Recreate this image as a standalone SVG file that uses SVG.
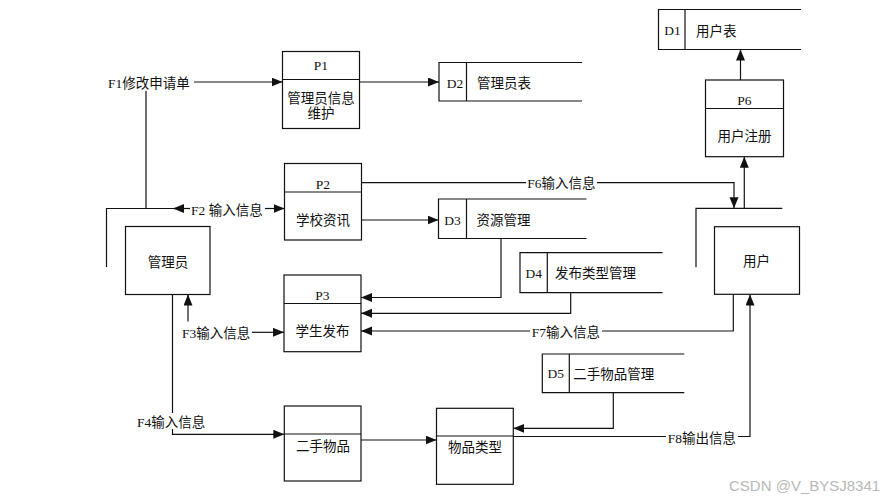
<svg xmlns="http://www.w3.org/2000/svg" width="893" height="501" viewBox="0 0 893 501">
<style>
.bx{fill:#fff;stroke:#111;stroke-width:1.2}
.ln{fill:none;stroke:#111;stroke-width:1.2}
.ar{fill:none;stroke:#111;stroke-width:1.2;marker-end:url(#ah)}
text{font-family:"Liberation Serif","Noto Sans CJK SC",serif;font-size:13.5px;fill:#111}
.c{text-anchor:middle}
.bg{fill:#fff}
.wm{font-family:"Liberation Sans","Noto Sans",sans-serif;font-size:15px;fill:#b8b8b8}
</style>
<defs>
<marker id="ah" markerUnits="userSpaceOnUse" markerWidth="12" markerHeight="10" refX="11" refY="4.5" orient="auto">
<path d="M0,0 L11,4.5 L0,9 z" fill="#111"/>
</marker>
</defs>
<rect width="893" height="501" fill="#fff"/>

<g id="connectors">
<!-- F1 -->
<path class="ln" d="M146,91 V208.5"/>
<path class="ar" d="M194,82 H282.5"/>
<text x="108" y="88">F1修改申请单</text>
<!-- P1 -> D2 -->
<path class="ar" d="M359.5,82 H439"/>
<!-- F2 -->
<path class="ar" d="M190,208.5 H173"/>
<path class="ar" d="M265,208.5 H284.5"/>
<text x="191" y="215">F2 输入信息</text>
<!-- P2 -> D3 -->
<path class="ar" d="M361.5,220 H438.5"/>
<!-- F6 -->
<path class="ar" d="M361.5,182.7 H734 V208.3"/>
<rect class="bg" x="526" y="174" width="71" height="16"/>
<text class="c" x="561.5" y="188">F6输入信息</text>
<!-- D3 -> P3 -->
<path class="ar" d="M501,238.5 V297.5 H361"/>
<!-- D4 -> P3 -->
<path class="ar" d="M570.7,292.7 V313.3 H361"/>
<!-- F7 -->
<path class="ar" d="M733.3,294.3 V331 H361"/>
<rect class="bg" x="530" y="323" width="72" height="16"/>
<text class="c" x="566" y="337">F7输入信息</text>
<!-- F3 -->
<path class="ar" d="M188,321.5 V294.5"/>
<path class="ar" d="M252,332.3 H284"/>
<text x="182" y="337.5">F3输入信息</text>
<!-- F4 -->
<path class="ar" d="M172.5,294.5 V434.3 H284.3"/>
<rect class="bg" x="136" y="413" width="72" height="16"/>
<text x="137" y="427">F4输入信息</text>
<!-- 二手物品 -> 物品类型 -->
<path class="ar" d="M361,440 H436.5"/>
<!-- D5 -> 物品类型 -->
<path class="ar" d="M613.3,392.7 V428.3 H513.3"/>
<!-- F8 -->
<path class="ar" d="M513.3,436.5 H750 V294.5"/>
<rect class="bg" x="666" y="429" width="72" height="16"/>
<text class="c" x="702" y="443">F8输出信息</text>
<!-- 用户 -> P6 -->
<path class="ar" d="M744.3,208.3 V156.7"/>
<!-- P6 -> D1 -->
<path class="ar" d="M740.5,80 V49.5"/>
</g>

<g id="D1">
<path class="ln" d="M801,9.5 H658.5 V49.5 H801 M685,9.5 V49.5"/>
<text class="c" x="672.5" y="35">D1</text>
<text x="696" y="35.5">用户表</text>
</g>

<g id="P6">
<rect class="bx" x="705.5" y="80" width="78" height="76.7"/>
<path class="ln" d="M705.5,108.5 H783.5"/>
<text class="c" x="744.5" y="105">P6</text>
<text class="c" x="744.5" y="141">用户注册</text>
</g>

<g id="P1">
<rect class="bx" x="282.5" y="51.5" width="77" height="77"/>
<path class="ln" d="M282.5,79.5 H359.5"/>
<text class="c" x="321" y="70">P1</text>
<text class="c" x="321" y="103">管理员信息</text>
<text class="c" x="321" y="117.5">维护</text>
</g>

<g id="D2">
<path class="ln" d="M582,62.5 H439 V101 H582 M466.5,62.5 V101"/>
<text class="c" x="455" y="87.5">D2</text>
<text x="477" y="88">管理员表</text>
</g>

<g id="P2">
<rect class="bx" x="284.5" y="163.5" width="77" height="76.5"/>
<path class="ln" d="M284.5,192 H361.5"/>
<text class="c" x="323" y="189">P2</text>
<text class="c" x="323" y="225">学校资讯</text>
</g>

<g id="D3">
<path class="ln" d="M586.5,199 H438.5 V238.5 H586.5 M466.5,199 V238.5"/>
<text class="c" x="452.5" y="225">D3</text>
<text x="476.5" y="225">资源管理</text>
</g>

<g id="D4">
<path class="ln" d="M662.5,252.7 H520 V292.7 H662.5 M547.3,252.7 V292.7"/>
<text class="c" x="533.7" y="278">D4</text>
<text x="555" y="278">发布类型管理</text>
</g>

<g id="D5">
<path class="ln" d="M684.3,354 H542.3 V392.7 H684.3 M569.3,354 V392.7"/>
<text class="c" x="555.8" y="378">D5</text>
<text x="573.3" y="379">二手物品管理</text>
</g>

<g id="admin">
<path class="ln" d="M106.5,267 V208.5 H173"/>
<rect class="bx" x="125.5" y="226.5" width="84.5" height="68"/>
<text class="c" x="168" y="267">管理员</text>
</g>

<g id="user">
<path class="ln" d="M696,267.3 V208.3 H782.3"/>
<rect class="bx" x="714.5" y="226.7" width="85" height="67.6"/>
<text class="c" x="756.5" y="266">用户</text>
</g>

<g id="P3">
<rect class="bx" x="284" y="275" width="77" height="76.7"/>
<path class="ln" d="M284,303.5 H361"/>
<text class="c" x="322.5" y="300">P3</text>
<text class="c" x="322.5" y="336">学生发布</text>
</g>

<g id="secondhand">
<rect class="bx" x="284.3" y="406" width="76.7" height="75"/>
<path class="ln" d="M284.3,434 H361"/>
<text class="c" x="323" y="451">二手物品</text>
</g>

<g id="category">
<rect class="bx" x="436.5" y="408.3" width="76.8" height="76"/>
<path class="ln" d="M436.5,436 H513.3"/>
<text class="c" x="475" y="452">物品类型</text>
</g>

<text class="wm" x="729" y="491">CSDN @V_BYSJ8341</text>
</svg>
